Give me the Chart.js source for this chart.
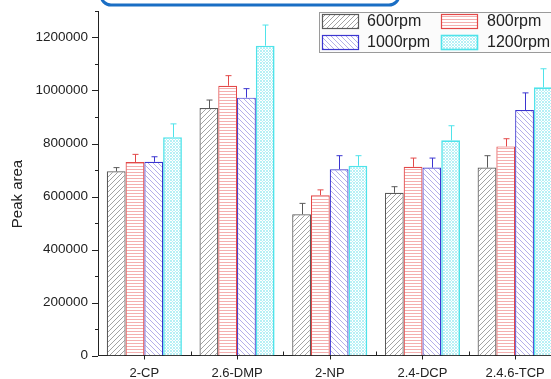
<!DOCTYPE html>
<html>
<head>
<meta charset="utf-8">
<script src="https://cdn.jsdelivr.net/npm/chart.js@4/dist/chart.umd.min.js"></script>
<style>
html,body{margin:0;padding:0;background:#fff;overflow:hidden;width:551px;height:379px;}
canvas{display:block;}
</style>
</head>
<body>
<canvas id="c" width="575" height="379" style="width:575px;height:379px"></canvas>
<script>
const categories = ['2-CP', '2.6-DMP', '2-NP', '2.4-DCP', '2.4.6-TCP'];
const seriesLabels = ['600rpm', '800rpm', '1000rpm', '1200rpm'];
const rpm600  = [695000, 934000, 533000, 614000, 709000];
const rpm800  = [730000, 1018000, 605000, 712000, 789000];
const rpm1000 = [731000, 973000, 703000, 709000, 926000];
const rpm1200 = [824000, 1169000, 716000, 812000, 1012000];
const err600  = [14000, 30000, 41000, 23000, 45000];
const err800  = [29000, 38000, 20000, 33000, 29000];
const err1000 = [19000, 34000, 51000, 36000, 65000];
const err1200 = [50000, 78000, 38000, 55000, 70000];
const yTicks = [0, 200000, 400000, 600000, 800000, 1000000, 1200000];

function makePattern(kind, color) {
  const t = document.createElement('canvas');
  const s = kind === 'h' ? 3 : (kind === 'x' ? 3 : 5);
  t.width = s; t.height = s;
  const g = t.getContext('2d');
  g.fillStyle = '#fff'; g.fillRect(0, 0, s, s);
  g.strokeStyle = color; g.fillStyle = color; g.lineWidth = 0.8;
  if (kind === '/') {
    g.beginPath(); g.moveTo(-1, s + 1); g.lineTo(s + 1, -1);
    g.moveTo(-1, 1); g.lineTo(1, -1);
    g.moveTo(s - 1, s + 1); g.lineTo(s + 1, s - 1); g.stroke();
  } else if (kind === '\\') {
    g.beginPath(); g.moveTo(-1, -1); g.lineTo(s + 1, s + 1);
    g.moveTo(s - 1, -1); g.lineTo(s + 1, 1);
    g.moveTo(-1, s - 1); g.lineTo(1, s + 1); g.stroke();
  } else if (kind === 'h') {
    g.fillRect(0, 1, s, 1);
  } else if (kind === 'x') {
    g.fillRect(0, 0, 1, 1); g.fillRect(2, 0, 1, 1);
    g.fillRect(1, 1, 1, 1);
    g.fillRect(0, 2, 1, 1); g.fillRect(2, 2, 1, 1);
  }
  return document.getElementById('c').getContext('2d').createPattern(t, 'repeat');
}

const styles = [
  {pat: makePattern('/', 'rgba(90,90,90,0.7)'), border: '#5a5a5a', bw: 1.2},
  {pat: makePattern('h', 'rgba(235,110,110,0.55)'), border: '#e34848', bw: 1.2},
  {pat: makePattern('\\', 'rgba(110,100,215,0.65)'), border: '#3b35d0', bw: 1.2},
  {pat: makePattern('x', 'rgba(110,225,235,0.5)'), border: '#4fe3ea', bw: 1.6}
];
const values = [rpm600, rpm800, rpm1000, rpm1200];
const errors = [err600, err800, err1000, err1200];

const datasets = values.map((v, i) => ({
  label: seriesLabels[i],
  data: v,
  backgroundColor: styles[i].pat,
  borderColor: styles[i].border,
  borderWidth: styles[i].bw,
  borderSkipped: 'start',
  categoryPercentage: 0.81,
  barPercentage: 1.0
}));

const FONT = '"Liberation Sans", Arial, sans-serif';

const deco = {
  id: 'deco',
  afterDatasetsDraw(chart) {
    const ctx = chart.ctx;
    const y = chart.scales.y;
    chart.data.datasets.forEach((ds, di) => {
      const meta = chart.getDatasetMeta(di);
      ctx.save();
      ctx.strokeStyle = styles[di].border;
      ctx.lineWidth = 1;
      meta.data.forEach((bar, i) => {
        const top = y.getPixelForValue(ds.data[i] + errors[di][i]);
        const bx = Math.round(bar.x) + 0.5;
        ctx.beginPath();
        ctx.moveTo(bx, bar.y); ctx.lineTo(bx, top);
        ctx.moveTo(bx - 3, top); ctx.lineTo(bx + 3, top);
        ctx.stroke();
      });
      ctx.restore();
    });
  },
  afterDraw(chart) {
    const ctx = chart.ctx;
    const y = chart.scales.y, x = chart.scales.x;
    const ax = chart.chartArea.left, ay = chart.chartArea.bottom;
    ctx.save();
    ctx.strokeStyle = '#222'; ctx.lineWidth = 1;
    for (let v = 0; v <= 1300000; v += 100000) {
      const py = Math.round(y.getPixelForValue(v)) + 0.5;
      const len = (v % 200000 === 0) ? 6 : 3;
      ctx.beginPath(); ctx.moveTo(ax - len, py); ctx.lineTo(ax, py); ctx.stroke();
    }
    for (let i = 0; i < categories.length; i++) {
      const px = Math.round(x.getPixelForValue(i)) + 0.5;
      ctx.beginPath(); ctx.moveTo(px, ay); ctx.lineTo(px, ay + 4); ctx.stroke();
      if (i < categories.length - 1) {
        const bx = Math.round((x.getPixelForValue(i) + x.getPixelForValue(i + 1)) / 2) + 0.5;
        ctx.beginPath(); ctx.moveTo(bx, ay); ctx.lineTo(bx, ay - 4); ctx.stroke();
      }
    }
    ctx.fillStyle = '#222';
    ctx.font = '15px ' + FONT;
    ctx.textAlign = 'center'; ctx.textBaseline = 'middle';
    ctx.translate(18, 194);
    ctx.rotate(-Math.PI / 2);
    ctx.fillText('Peak area', 0, 0);
    ctx.restore();

    // legend
    ctx.save();
    ctx.fillStyle = '#fbfbfb';
    ctx.fillRect(319, 12, 260, 41);
    ctx.strokeStyle = '#9a9a9a'; ctx.lineWidth = 1;
    ctx.strokeRect(319.5, 12.5, 260, 40);
    const pos = [[322, 14, 367], [441, 14, 487], [322, 35, 367], [441, 35, 487]];
    ctx.font = '16px ' + FONT;
    ctx.textAlign = 'left'; ctx.textBaseline = 'middle';
    seriesLabels.forEach((lab, i) => {
      const [sx, sy, tx] = pos[i];
      ctx.fillStyle = styles[i].pat;
      ctx.fillRect(sx, sy, 36, 14);
      ctx.strokeStyle = styles[i].border; ctx.lineWidth = styles[i].bw;
      ctx.strokeRect(sx + 0.5, sy + 0.5, 36, 14);
      ctx.fillStyle = '#222';
      ctx.fillText(lab, tx, sy + 8);
    });
    ctx.restore();

    ctx.save();
    ctx.strokeStyle = '#1a6ec4'; ctx.lineWidth = 3;
    ctx.beginPath();
    ctx.roundRect(101, -30, 298, 35, 10);
    ctx.stroke();
    ctx.restore();
  }
};

new Chart(document.getElementById('c'), {
  type: 'bar',
  data: { labels: categories, datasets: datasets },
  options: {
    responsive: false,
    animation: false,
    layout: { padding: { left: 0, right: 13.5, top: 11, bottom: 0 } },
    plugins: { legend: { display: false }, tooltip: { enabled: false } },
    scales: {
      x: {
        grid: { display: false, drawTicks: false },
        border: { display: true, color: '#222', width: 1 },
        ticks: { color: '#222', font: { family: FONT, size: 13 }, padding: 10, maxRotation: 0 },
        afterFit(s) { s.height = 23.5; s.paddingLeft = 0; s.paddingRight = 0; }
      },
      y: {
        min: 0, max: 1300000,
        grid: { display: false, drawTicks: false },
        border: { display: true, color: '#222', width: 1 },
        ticks: {
          stepSize: 100000,
          color: '#222', font: { family: FONT, size: 13.5 }, padding: 10,
          callback: (v) => (yTicks.includes(v) ? String(v) : '')
        },
        afterFit(s) { s.width = 98; s.paddingTop = 0; s.paddingBottom = 0; }
      }
    }
  },
  plugins: [deco]
});
</script>
</body>
</html>
